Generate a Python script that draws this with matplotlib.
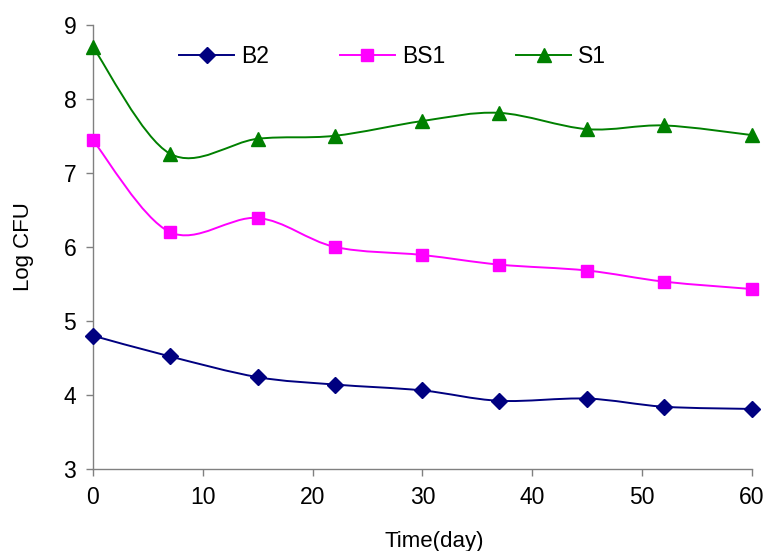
import numpy as np
import matplotlib
matplotlib.use("Agg")
import matplotlib.pyplot as plt
from matplotlib.path import Path
from matplotlib.patches import PathPatch

plt.rcParams['font.family'] = ['Liberation Sans', 'DejaVu Sans']

# ========== data ==========
days = [0, 7, 15, 22, 30, 37, 45, 52, 60]
b2 = [4.80, 4.52, 4.24, 4.14, 4.06, 3.92, 3.95, 3.84, 3.81]
bs1 = [7.44, 6.20, 6.39, 6.00, 5.89, 5.76, 5.68, 5.53, 5.43]
s1 = [8.70, 7.26, 7.46, 7.50, 7.70, 7.81, 7.59, 7.64, 7.51]


def smooth_path(x, y, t=1 / 6.0):
    # Excel-like smoothed line: Catmull-Rom -> cubic Bezier
    x = np.asarray(x, float)
    y = np.asarray(y, float)
    n = len(x)
    verts = [(x[0], y[0])]
    codes = [Path.MOVETO]
    for i in range(n - 1):
        i0 = max(i - 1, 0)
        i3 = min(i + 2, n - 1)
        c1 = (x[i] + (x[i + 1] - x[i0]) * t, y[i] + (y[i + 1] - y[i0]) * t)
        c2 = (x[i + 1] - (x[i3] - x[i]) * t, y[i + 1] - (y[i3] - y[i]) * t)
        verts += [c1, c2, (x[i + 1], y[i + 1])]
        codes += [Path.CURVE4] * 3
    return Path(verts, codes)


fig = plt.figure(figsize=(7.68, 5.51), dpi=100)
ax = fig.add_axes([0.121, 0.149, 0.858, 0.806])

series = [
    ("B2", b2, "#000080", "D", 8),
    ("BS1", bs1, "#FF00FF", "s", 8.5),
    ("S1", s1, "#008000", "^", 10),
]
for name, vals, col, mk, ms in series:
    ax.add_patch(PathPatch(smooth_path(days, vals), facecolor="none",
                           edgecolor=col, lw=1.4, zorder=2))
    ax.plot(days, vals, linestyle="none", marker=mk, ms=ms, color=col, zorder=3,
            clip_on=False)
    # legend handle
    ax.plot([], [], color=col, lw=1.4, marker=mk, ms=ms, label=name)

ax.set_xlim(0, 60)
ax.set_ylim(3, 9)
ax.set_xticks(range(0, 61, 10))
ax.set_yticks(range(3, 10))

for s in ["top", "right"]:
    ax.spines[s].set_visible(False)
for s in ["left", "bottom"]:
    ax.spines[s].set_color("#808080")
    ax.spines[s].set_linewidth(1.0)
ax.tick_params(axis="both", direction="out", length=5, width=1.0,
               color="#808080", labelsize=16.5, pad=7)

ax.set_ylabel("Log CFU", fontsize=16)
ax.yaxis.set_label_coords(-0.09, 0.5)
ax.set_xlabel("Time(day)", fontsize=16)
ax.xaxis.set_label_coords(0.518, -0.14)

ax.legend(loc="upper left", bbox_to_anchor=(0.117, 0.975), ncol=3, frameon=False,
          fontsize=16.5, handlelength=2.4, columnspacing=3.1, handletextpad=0.3,
          borderaxespad=0)

fig.savefig("out.png", dpi=100)
